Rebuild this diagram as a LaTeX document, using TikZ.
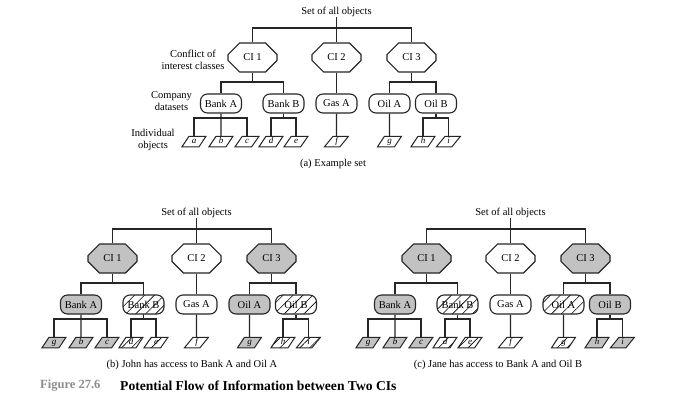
\documentclass[tikz,border=0pt]{standalone}
\usepackage{fontspec}
\setmainfont{Liberation Serif}
\usetikzlibrary{shapes.misc,shapes.geometric,patterns.meta}
\tikzset{
  ln/.style={line width=1.1pt, draw=black!85},
  txt/.style={font=\fontsize{10.5}{12}\selectfont},
  oct/.style={chamfered rectangle, chamfered rectangle xsep=10pt, chamfered rectangle ysep=8pt,
    minimum width=49pt, minimum height=29pt, inner sep=0pt, ln, txt},
  dset/.style={rectangle, rounded corners=7pt, minimum width=41pt, minimum height=19pt,
    inner sep=0pt, ln, txt},
  obj/.style={trapezium, trapezium left angle=66, trapezium right angle=114, trapezium stretches=true,
    minimum width=24pt, minimum height=10.5pt, inner sep=0pt, text height=5.5pt, text depth=1.5pt,
    ln, line width=1pt, font=\itshape\fontsize{9}{9}\selectfont},
  lbl/.style={align=center, inner sep=0pt, font=\fontsize{10.5}{12}\selectfont},
  captxt/.style={inner sep=0pt, font=\fontsize{10.5}{12}\selectfont},
  gr/.style={fill=black!24},
  ht/.style={pattern={Lines[angle=45,distance=7pt,line width=0.6pt]}},
  wh/.style={fill=white},
  % (a) all white
  aci1/.style={wh}, aci2/.style={wh}, aci3/.style={wh},
  abka/.style={wh}, abkb/.style={wh}, agas/.style={wh}, aoila/.style={wh}, aoilb/.style={wh},
  aobjabc/.style={wh}, aobjde/.style={wh}, aobjf/.style={wh}, aobjg/.style={wh}, aobjhi/.style={wh},
  % (b) John
  bci1/.style={gr}, bci2/.style={wh}, bci3/.style={gr},
  bbka/.style={gr}, bbkb/.style={ht}, bgas/.style={wh}, boila/.style={gr}, boilb/.style={ht},
  bobjabc/.style={gr}, bobjde/.style={ht}, bobjf/.style={wh}, bobjg/.style={gr}, bobjhi/.style={ht},
  % (c) Jane
  cci1/.style={gr}, cci2/.style={wh}, cci3/.style={gr},
  cbka/.style={gr}, cbkb/.style={ht}, cgas/.style={wh}, coila/.style={ht}, coilb/.style={gr},
  cobjabc/.style={gr}, cobjde/.style={ht}, cobjf/.style={wh}, cobjg/.style={ht}, cobjhi/.style={gr},
}
% #1 prefix, #2 xshift, #3 yshift, #4 caption, #5 first object label, #6 caption x
\newcommand\drawtree[6]{%
\begin{scope}[xshift=#2, yshift=#3]
  \coordinate (#1b1) at (0,28);
  \coordinate (#1b2) at (0,82);
  \coordinate (#1b3) at (0,118);
  \node[captxt] (#1top) at (336.5,12) {Set of all objects};
  \node[oct,#1ci1] (#1ci1) at (252.5,57.5) {CI 1};
  \node[oct,#1ci2] (#1ci2) at (336.5,57.5) {CI 2};
  \node[oct,#1ci3] (#1ci3) at (411.5,57.5) {CI 3};
  \node[dset,#1bka] (#1bka) at (221,103.5) {Bank A};
  \node[dset,#1bkb] (#1bkb) at (283.5,103.5) {Bank B};
  \node[dset,#1gas] (#1gas) at (336.5,103.5) {Gas A};
  \node[dset,#1oila] (#1oila) at (389.5,103.5) {Oil A};
  \node[dset,#1oilb] (#1oilb) at (436,103.5) {Oil B};
  \node[obj,#1objabc] (#1oa) at (194,141.5) {#5};
  \node[obj,#1objabc] (#1ob) at (221,141.5) {b};
  \node[obj,#1objabc] (#1oc) at (247,141.5) {c};
  \node[obj,#1objde] (#1od) at (271,141.5) {d};
  \node[obj,#1objde] (#1oe) at (296,141.5) {e};
  \node[obj,#1objf] (#1of) at (336.5,141.5) {f};
  \node[obj,#1objg] (#1og) at (389.5,141.5) {g};
  \node[obj,#1objhi] (#1oh) at (423,141.5) {h};
  \node[obj,#1objhi] (#1oi) at (448.5,141.5) {i};
  % connectors
  \draw[ln] (#1top.south) -- (#1ci2.north);
  \draw[ln] (#1ci1.north) -- (#1ci1.north |- #1b1) -- (#1ci3.north |- #1b1) -- (#1ci3.north);
  \draw[ln] (#1ci1.south) -- (#1ci1.south |- #1b2);
  \draw[ln] (#1bka.north) -- (#1bka.north |- #1b2) -- (#1bkb.north |- #1b2) -- (#1bkb.north);
  \draw[ln] (#1ci2.south) -- (#1gas.north);
  \draw[ln] (#1ci3.south) -- (#1ci3.south |- #1b2);
  \draw[ln] (#1oila.north) -- (#1oila.north |- #1b2) -- (#1oilb.north |- #1b2) -- (#1oilb.north);
  \draw[ln] (#1bka.south) -- (#1ob.north);
  \draw[ln] (#1oa.north) -- (#1oa.north |- #1b3) -- (#1oc.north |- #1b3) -- (#1oc.north);
  \draw[ln] (#1bkb.south) -- (#1bkb.south |- #1b3);
  \draw[ln] (#1od.north) -- (#1od.north |- #1b3) -- (#1oe.north |- #1b3) -- (#1oe.north);
  \draw[ln] (#1gas.south) -- (#1of.north);
  \draw[ln] (#1oila.south) -- (#1og.north);
  \draw[ln] (#1oilb.south) -- (#1oilb.south |- #1b3);
  \draw[ln] (#1oh.north) -- (#1oh.north |- #1b3) -- (#1oi.north |- #1b3) -- (#1oi.north);
  \node[captxt] (#1cap) at (#6,164) {#4};
\end{scope}}
\begin{document}
\begin{tikzpicture}[x=1pt,y=-1pt]
  \useasboundingbox[fill=white] (0,0) rectangle (692,410);
  \drawtree{a}{0pt}{0pt}{(a) Example set}{a}{333}
  \drawtree{b}{-140pt}{-201pt}{(b) John has access to Bank A and Oil A}{g}{332}
  \drawtree{c}{174pt}{-201pt}{(c) Jane has access to Bank A and Oil B}{g}{324}
  \node[lbl] (lci) at (193,60) {Conflict of\\interest classes};
  \node[lbl] (lds) at (171.5,101) {Company\\datasets};
  \node[lbl] (lob) at (153,140) {Individual\\objects};
  \node[inner sep=0pt, anchor=west, text=black!45, font=\bfseries\fontsize{12.5}{14}\selectfont] (fignum) at (40,386) {Figure 27.6};
  \node[inner sep=0pt, anchor=west, font=\bfseries\fontsize{13.6}{15}\selectfont] (figttl) at (120,386) {Potential Flow of Information between Two CIs};
\end{tikzpicture}
\end{document}
